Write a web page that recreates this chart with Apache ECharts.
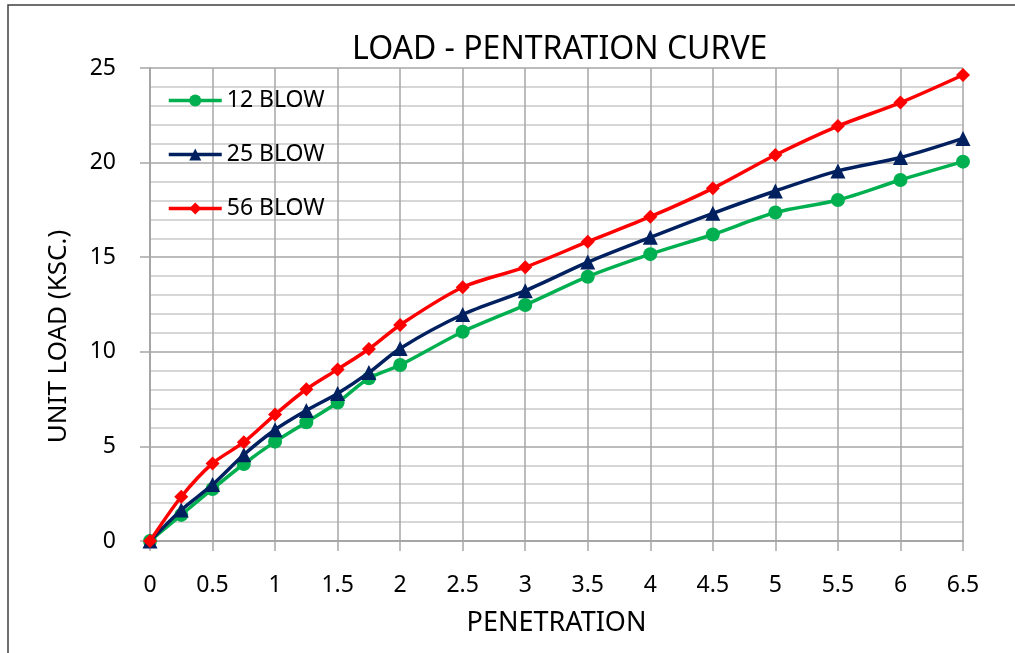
<!DOCTYPE html>
<html>
<head>
<meta charset="utf-8">
<title>Load - Penetration Curve</title>
<script src="https://cdn.jsdelivr.net/npm/echarts@6/dist/echarts.min.js"></script>
<style>
  html, body { margin: 0; padding: 0; background: #ffffff; }
  #chart { width: 1015px; height: 653px; }
</style>
</head>
<body>
<div id="chart"></div>
<script>
// Penetration (x) readings
const penetration = [0, 0.25, 0.5, 0.75, 1, 1.25, 1.5, 1.75, 2, 2.5, 3, 3.5, 4, 4.5, 5, 5.5, 6, 6.5];

// Unit load (ksc.) per compaction effort
const blow12 = [0, 1.38, 2.75, 4.07, 5.25, 6.28, 7.32, 8.6, 9.3, 11.06, 12.47, 13.97, 15.16, 16.2, 17.36, 18.02, 19.08, 20.05];
const blow25 = [0, 1.64, 2.98, 4.56, 5.88, 6.9, 7.8, 8.9, 10.18, 11.97, 13.23, 14.74, 16.05, 17.32, 18.5, 19.56, 20.27, 21.28];
const blow56 = [0, 2.34, 4.1, 5.22, 6.68, 8.02, 9.07, 10.15, 11.42, 13.41, 14.47, 15.82, 17.14, 18.64, 20.4, 21.93, 23.17, 24.63];

const seriesNames = ['12 BLOW', '25 BLOW', '56 BLOW'];
const seriesColors = ['#00b050', '#002060', '#ff0000'];
const seriesSymbols = ['circle', 'triangle', 'diamond'];
const seriesSizes = [14, 15, 14];

const FONT = '"Noto Sans", "Open Sans", sans-serif';

function pairs(ys) {
  return penetration.map((x, i) => [x, ys[i]]);
}

const chart = echarts.init(document.getElementById('chart'), null, { renderer: 'canvas' });

const option = {
  backgroundColor: '#ffffff',
  animation: false,
  title: {
    text: 'LOAD - PENTRATION CURVE',
    left: 347,
    top: 29,
    textStyle: { fontFamily: FONT, fontSize: 32, fontWeight: 'normal', color: '#000000' }
  },
  legend: {
    orient: 'vertical',
    left: 167,
    top: 89,
    padding: 0,
    itemWidth: 53,
    itemHeight: 15,
    itemGap: 31,
    lineStyle: { width: 3.5 },
    textStyle: { fontFamily: FONT, fontSize: 23, color: '#000000', lineHeight: 23 },
    data: seriesNames
  },
  grid: { left: 150, right: 52, top: 68, bottom: 112, containLabel: false },
  xAxis: {
    type: 'value',
    min: 0,
    max: 6.5,
    interval: 0.5,
    name: 'PENETRATION',
    nameLocation: 'middle',
    nameGap: 69,
    nameTextStyle: { fontFamily: FONT, fontSize: 27, color: '#000000' },
    axisLine: { show: true, lineStyle: { color: '#a6a6a6', width: 2 } },
    axisTick: { show: true, inside: false, length: 10, lineStyle: { color: '#a6a6a6', width: 1.5 } },
    axisLabel: { fontFamily: FONT, fontSize: 23, color: '#000000', margin: 33 },
    splitLine: { show: true, lineStyle: { color: '#a6a6a6', width: 1.5 } }
  },
  yAxis: {
    type: 'value',
    min: 0,
    max: 25,
    interval: 5,
    name: 'UNIT LOAD (KSC.)',
    nameLocation: 'middle',
    nameGap: 78,
    nameTextStyle: { fontFamily: FONT, fontSize: 26, color: '#000000', padding: [0, 64, 0, 0] },
    axisLine: { show: true, lineStyle: { color: '#a6a6a6', width: 2 } },
    axisTick: { show: true, inside: false, length: 10, lineStyle: { color: '#a6a6a6', width: 1.5 } },
    axisLabel: { fontFamily: FONT, fontSize: 23, color: '#000000', margin: 34, padding: [0, 0, 6, 0] },
    splitLine: { show: true, lineStyle: { color: '#a6a6a6', width: 1.5 } },
    minorTick: { show: false, splitNumber: 5 },
    minorSplitLine: { show: true, lineStyle: { color: '#d6d6d6', width: 2 } }
  },
  graphic: [
    {
      type: 'rect',
      z: 100,
      silent: true,
      shape: { x: 8, y: 5, width: 1200, height: 900 },
      style: { fill: 'none', stroke: '#3f3f3f', lineWidth: 1.5 }
    }
  ],
  series: [blow12, blow25, blow56].map((ys, i) => ({
    name: seriesNames[i],
    type: 'line',
    data: pairs(ys),
    smooth: 0.3,
    symbol: seriesSymbols[i],
    symbolSize: seriesSizes[i],
    showAllSymbol: true,
    clip: false,
    z: 3 + i,
    itemStyle: { color: seriesColors[i] },
    lineStyle: { color: seriesColors[i], width: 3.5 }
  }))
};

chart.setOption(option);
</script>
</body>
</html>
